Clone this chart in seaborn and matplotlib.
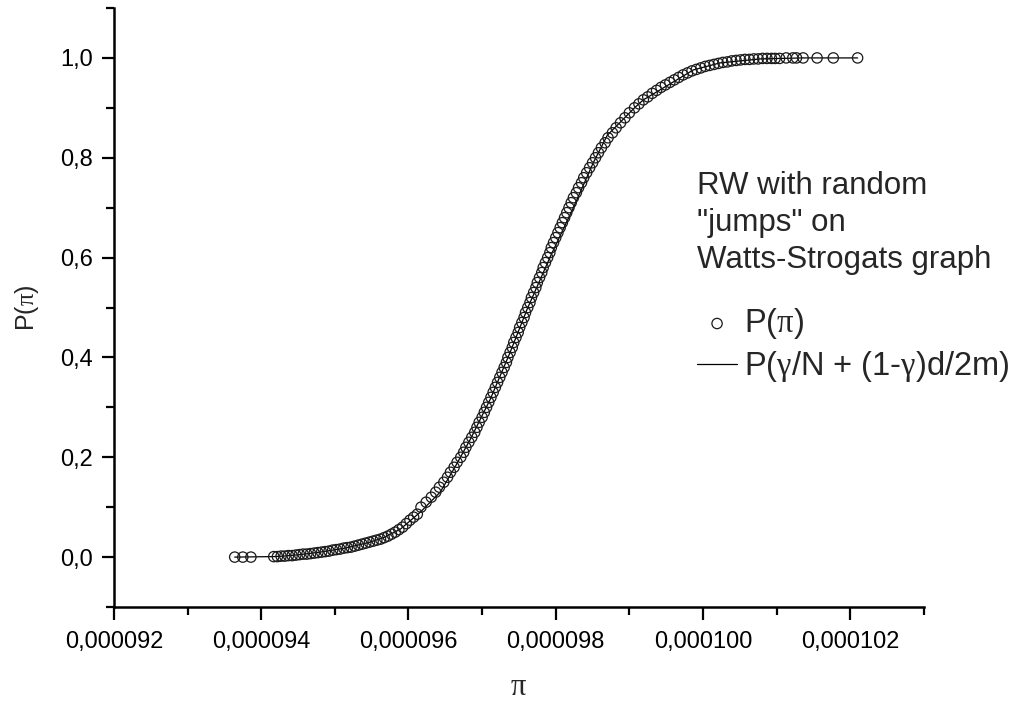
import numpy as np
import pandas as pd
import matplotlib
matplotlib.use("Agg")
import matplotlib.pyplot as plt
from matplotlib.ticker import FuncFormatter, MultipleLocator
import seaborn as sns

# pi values in units of 1e-6, with the cumulative P(pi)
pi_pts = [
    93.64, 93.75, 93.86, 94.17, 94.22, 94.27, 94.32, 94.37, 94.42, 94.47,
    94.52, 94.57, 94.62, 94.67, 94.72, 94.77, 94.82, 94.87, 94.92, 94.97,
    95.02, 95.07, 95.12, 95.17, 95.22, 95.27, 95.32, 95.37, 95.42, 95.47,
    95.52, 95.57, 95.62, 95.67, 95.72, 95.77, 95.82, 95.87, 95.92, 95.97,
    96.02, 96.07, 96.12,
    96.17, 96.24, 96.31, 96.37, 96.42, 96.48, 96.53, 96.57, 96.62, 96.66,
    96.71, 96.75, 96.78, 96.82, 96.86, 96.90, 96.93, 96.96, 97.00, 97.03,
    97.06, 97.09, 97.12, 97.15, 97.18, 97.21, 97.24, 97.27, 97.30, 97.33,
    97.35, 97.38, 97.41, 97.43, 97.46, 97.49, 97.51, 97.54, 97.57, 97.59,
    97.62, 97.65, 97.67, 97.70, 97.73, 97.75, 97.78, 97.81, 97.83, 97.86,
    97.89, 97.92, 97.94, 97.97, 98.00, 98.03, 98.06, 98.09, 98.12, 98.15,
    98.18, 98.21, 98.24, 98.28, 98.31, 98.35, 98.38, 98.42, 98.46, 98.50,
    98.54, 98.58, 98.62, 98.67, 98.71, 98.77, 98.82, 98.88, 98.94, 99.00,
    99.07,
    99.13, 99.19, 99.25, 99.31, 99.37, 99.43, 99.49, 99.55, 99.61, 99.67,
    99.73, 99.79, 99.85, 99.91, 99.97, 100.03, 100.09, 100.15, 100.21, 100.27,
    100.33, 100.39, 100.45, 100.51, 100.57, 100.63, 100.69, 100.75, 100.81, 100.87,
    100.93, 100.98, 101.04, 101.13, 101.22, 101.27, 101.36, 101.55, 101.77, 102.10,
]
p_pts = [
    0.000, 0.000, 0.000, 0.001, 0.001, 0.002, 0.002, 0.003, 0.003, 0.004,
    0.005, 0.006, 0.006, 0.007, 0.008, 0.009, 0.010, 0.011, 0.012, 0.014,
    0.015, 0.016, 0.018, 0.019, 0.020, 0.022, 0.024, 0.026, 0.028, 0.030,
    0.032, 0.034, 0.036, 0.039, 0.042, 0.046, 0.050, 0.055, 0.060, 0.067,
    0.074, 0.080, 0.086,
    0.10, 0.11, 0.12, 0.13, 0.14, 0.15, 0.16, 0.17, 0.18, 0.19,
    0.20, 0.21, 0.22, 0.23, 0.24, 0.25, 0.26, 0.27, 0.28, 0.29,
    0.30, 0.31, 0.32, 0.33, 0.34, 0.35, 0.36, 0.37, 0.38, 0.39,
    0.40, 0.41, 0.42, 0.43, 0.44, 0.45, 0.46, 0.47, 0.48, 0.49,
    0.50, 0.51, 0.52, 0.53, 0.54, 0.55, 0.56, 0.57, 0.58, 0.59,
    0.60, 0.61, 0.62, 0.63, 0.64, 0.65, 0.66, 0.67, 0.68, 0.69,
    0.70, 0.71, 0.72, 0.73, 0.74, 0.75, 0.76, 0.77, 0.78, 0.79,
    0.80, 0.81, 0.82, 0.83, 0.84, 0.85, 0.86, 0.87, 0.88, 0.89,
    0.90,
    0.908, 0.916, 0.922, 0.929, 0.935, 0.941, 0.946, 0.951, 0.956, 0.961,
    0.966, 0.970, 0.974, 0.977, 0.980, 0.983, 0.985, 0.987, 0.989, 0.991,
    0.992, 0.994, 0.995, 0.996, 0.997, 0.997, 0.998, 0.998, 0.999, 0.999,
    0.999, 0.999, 0.999, 1.000, 1.000, 1.000, 1.000, 1.000, 1.000, 1.000,
]

# theoretical curve P(gamma/N + (1-gamma)d/2m)
pi_line = [93.64, 94.17, 94.30, 94.53, 94.80, 95.14, 95.48, 95.68, 95.89, 96.16,
           96.43, 96.63, 96.84, 97.11, 97.38, 97.61, 97.92, 98.24, 98.51, 98.70,
           99.07, 99.19, 99.87, 100.23, 100.78, 101.05, 101.36, 102.10]
p_line = [0.000, 0.001, 0.002, 0.005, 0.010, 0.018, 0.030, 0.040, 0.056, 0.090,
          0.130, 0.180, 0.236, 0.316, 0.410, 0.496, 0.600, 0.700, 0.790, 0.845,
          0.900, 0.916, 0.976, 0.990, 0.998, 0.999, 1.000, 1.000]

pts = pd.DataFrame({"pi": np.array(pi_pts) * 1e-6, "P": p_pts})
teo = pd.DataFrame({"pi": np.array(pi_line) * 1e-6, "P": p_line})

sns.set_style("ticks")
plt.rcParams['font.family'] = ['Liberation Sans', 'DejaVu Sans']
plt.rcParams['mathtext.fontset'] = 'custom'
plt.rcParams['mathtext.rm'] = 'Liberation Serif'
plt.rcParams['mathtext.it'] = 'Liberation Serif'

fig = plt.figure(figsize=(10.23, 7.02), dpi=100)
ax = fig.add_axes([0.1114, 0.1353, 0.7917, 0.8533])

sns.lineplot(data=teo, x="pi", y="P", ax=ax, color="black", linewidth=0.9,
             sort=False, estimator=None, label=r"P($\gamma$/N + (1-$\gamma$)d/2m)")
sns.scatterplot(data=pts, x="pi", y="P", ax=ax, marker="o", s=55,
                facecolor="none", edgecolor="#1a1a1a", linewidth=0.9,
                label=r"P($\pi$)", zorder=3)

ax.set_xlim(0.000092, 0.000103)
ax.set_ylim(-0.1, 1.1)
ax.xaxis.set_major_locator(MultipleLocator(0.000002))
ax.xaxis.set_minor_locator(MultipleLocator(0.000001))
ax.yaxis.set_major_locator(MultipleLocator(0.2))
ax.yaxis.set_minor_locator(MultipleLocator(0.1))
ax.xaxis.set_major_formatter(FuncFormatter(lambda v, p: f"{v:.6f}".replace(".", ",")))
ax.yaxis.set_major_formatter(FuncFormatter(lambda v, p: f"{v:.1f}".replace(".", ",")))

for s in ["top", "right"]:
    ax.spines[s].set_visible(False)
for s in ["left", "bottom"]:
    ax.spines[s].set_linewidth(1.8)
    ax.spines[s].set_color("black")
ax.tick_params(which="major", direction="out", length=9, width=1.6,
               labelsize=17, colors="black")
ax.tick_params(which="minor", direction="out", length=5.5, width=1.6, colors="black")
ax.tick_params(axis="x", which="major", pad=8)
ax.tick_params(axis="y", which="major", pad=6)

ax.set_xlabel(r"$\pi$", fontsize=22, labelpad=14)
ax.set_ylabel(r"P($\pi$)", fontsize=18, labelpad=14)

fig.text(0.681, 0.756, "RW with random\n\"jumps\" on\nWatts-Strogats graph",
         fontsize=22.5, va="top", ha="left", linespacing=1.29)

h, l = ax.get_legend_handles_labels()
ax.legend([h[1], h[0]], [l[1], l[0]], frameon=False, fontsize=23.5,
          loc="upper left", bbox_to_anchor=(0.681, 0.564),
          bbox_transform=fig.transFigure, handlelength=1.25, handletextpad=0.2,
          labelspacing=0.25, borderaxespad=0, borderpad=0, markerscale=1.0)

fig.savefig("out.png", dpi=100)
